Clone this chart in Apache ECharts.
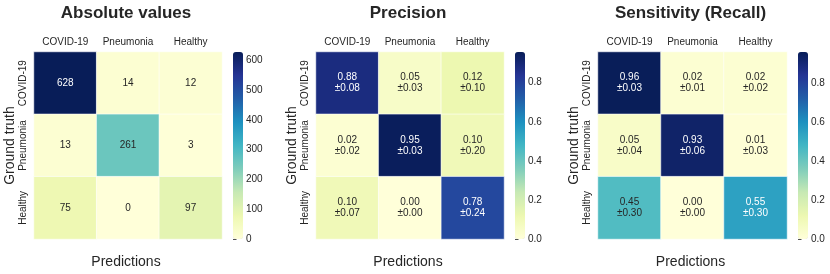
<!DOCTYPE html>
<html>
<head>
<meta charset="utf-8">
<script src="https://cdn.jsdelivr.net/npm/echarts@6/dist/echarts.min.js"></script>
<style>
html,body{margin:0;padding:0;background:#fff;}
#c{width:830px;height:274px;}
</style>
</head>
<body>
<div id="c"></div>
<script>
// ---- data ----
var categories = ['COVID-19', 'Pneumonia', 'Healthy'];
var titles = ['Absolute values', 'Precision', 'Sensitivity (Recall)'];
var absValues = [[628, 14, 12], [13, 261, 3], [75, 0, 97]];
var precMean = [[0.88, 0.05, 0.12], [0.02, 0.95, 0.10], [0.10, 0.00, 0.78]];
var precStd = [[0.08, 0.03, 0.10], [0.02, 0.03, 0.20], [0.07, 0.00, 0.24]];
var recMean = [[0.96, 0.02, 0.02], [0.05, 0.93, 0.01], [0.45, 0.00, 0.55]];
var recStd = [[0.03, 0.01, 0.02], [0.04, 0.06, 0.03], [0.30, 0.00, 0.30]];
var colorbarMax = [628, 0.957, 0.963];
var absTicks = [0, 100, 200, 300, 400, 500, 600];
var fracTicks = [0.0, 0.2, 0.4, 0.6, 0.8];

// ---- style / layout ----
var FONT = '"Liberation Sans", Arial, Helvetica, sans-serif';
var TXT = '#262626';
var YlGnBu = ['#ffffd9', '#edf8b1', '#c7e9b4', '#7fcdbb', '#41b6c4', '#1d91c0', '#225ea8', '#253494', '#081d58'];
var panels = [
  {left: 34, width: 188, cbLeft: 233, gtX: 10},
  {left: 316, width: 188, cbLeft: 515, gtX: 292},
  {left: 598, width: 189, cbLeft: 798, gtX: 574}
];
var TOP = 52, H = 187;

function hex2rgb(h) { return [parseInt(h.substr(1,2),16), parseInt(h.substr(3,2),16), parseInt(h.substr(5,2),16)]; }
function cmap(t) {
  t = Math.max(0, Math.min(1, t));
  var p = t * (YlGnBu.length - 1), i = Math.min(Math.floor(p), YlGnBu.length - 2), f = p - i;
  var a = hex2rgb(YlGnBu[i]), b = hex2rgb(YlGnBu[i+1]);
  return [a[0]+(b[0]-a[0])*f, a[1]+(b[1]-a[1])*f, a[2]+(b[2]-a[2])*f];
}
function lum(rgb) {
  var c = rgb.map(function (v) { v /= 255; return v <= 0.03928 ? v / 12.92 : Math.pow((v + 0.055) / 1.055, 2.4); });
  return 0.2126 * c[0] + 0.7152 * c[1] + 0.0722 * c[2];
}

var means = [absValues, precMean, recMean];
var stds = [null, precStd, recStd];
var ticks = [absTicks, fracTicks, fracTicks];

var grid = [], xAxis = [], yAxis = [], series = [], visualMap = [], graphic = [];
panels.forEach(function (p, k) {
  grid.push({left: p.left, top: TOP, width: p.width, height: H});
  xAxis.push({type: 'category', gridIndex: 2*k, data: categories, position: 'top',
    axisLine: {show: false}, axisTick: {show: false}, splitLine: {show: false},
    axisLabel: {color: TXT, fontFamily: FONT, fontSize: 10, margin: 5, interval: 0, hideOverlap: false}});
  yAxis.push({type: 'category', gridIndex: 2*k, data: categories, inverse: true,
    axisLine: {show: false}, axisTick: {show: false}, splitLine: {show: false},
    axisLabel: {color: TXT, fontFamily: FONT, fontSize: 10, rotate: 90, margin: 6, interval: 0, hideOverlap: false}});
  grid.push({left: p.cbLeft, top: TOP, width: 10, height: H});
  xAxis.push({type: 'value', gridIndex: 2*k+1, show: false, min: 0, max: 1});
  yAxis.push({type: 'value', gridIndex: 2*k+1, position: 'right', min: 0, max: colorbarMax[k],
    axisLine: {show: false}, splitLine: {show: false},
    axisTick: {show: true, length: 3.5, customValues: ticks[k], lineStyle: {color: TXT, width: 0.8}},
    axisLabel: {color: TXT, fontFamily: FONT, fontSize: 10, margin: 3, customValues: ticks[k],
      formatter: (function (kk) { return function (v) { return kk === 0 ? String(Math.round(v)) : v.toFixed(1); }; })(k)}});

  var data = [];
  for (var r = 0; r < 3; r++) for (var c = 0; c < 3; c++) {
    var v = means[k][r][c];
    var col = lum(cmap(v / colorbarMax[k])) > 0.408 ? TXT : '#ffffff';
    data.push({value: [c, r, v, stds[k] ? stds[k][r][c] : null], label: {color: col}});
  }
  series.push({type: 'heatmap', xAxisIndex: 2*k, yAxisIndex: 2*k, data: data,
    itemStyle: {borderColor: '#ffffff', borderWidth: 0.6},
    emphasis: {disabled: true},
    label: {show: true, fontFamily: FONT, fontSize: 10, lineHeight: 11,
      formatter: (function (kk) { return function (prm) {
        var d = prm.value;
        return kk === 0 ? String(d[2]) : d[2].toFixed(2) + '\n\u00b1' + d[3].toFixed(2);
      }; })(k)}});
  visualMap.push({type: 'continuous', seriesIndex: k, dimension: 2, min: 0, max: colorbarMax[k],
    show: true, calculable: false, hoverLink: false, padding: 0,
    left: p.cbLeft, top: TOP, itemWidth: 10, itemHeight: H, orient: 'vertical',
    inRange: {color: YlGnBu}});

  var cx = p.left + p.width / 2;
  graphic.push({type: 'text', x: cx - 2, y: 13, style: {text: titles[k], font: 'bold 17px ' + FONT,
    fill: TXT, textAlign: 'center', textVerticalAlign: 'middle'}});
  graphic.push({type: 'text', x: cx - 2, y: 262, style: {text: 'Predictions', font: '14px ' + FONT,
    fill: TXT, textAlign: 'center', textVerticalAlign: 'middle'}});
  graphic.push({type: 'text', x: p.gtX, y: TOP + H / 2, rotation: Math.PI / 2,
    style: {text: 'Ground truth', font: '14px ' + FONT, fill: TXT, textAlign: 'center', textVerticalAlign: 'middle'}});
});

var chart = echarts.init(document.getElementById('c'), null, {renderer: 'canvas'});
chart.setOption({
  animation: false,
  backgroundColor: '#ffffff',
  grid: grid, xAxis: xAxis, yAxis: yAxis, series: series, visualMap: visualMap, graphic: graphic
});
</script>
</body>
</html>
